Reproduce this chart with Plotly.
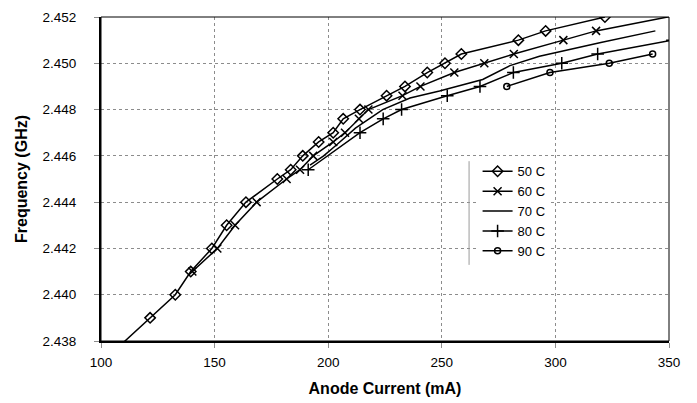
import plotly.graph_objects as go

# ---- data ----
current_50 = [99.5, 121.6, 132.7, 139.5, 148.8, 155.3, 163.8, 177.6, 183.5, 188.8, 195.8,
              202.2, 206.6, 214.0, 225.7, 233.8, 243.6, 251.4, 258.6, 283.7, 295.7, 321.8]
freq_50 = [2.437, 2.439, 2.440, 2.441, 2.442, 2.443, 2.444, 2.445, 2.4454, 2.446, 2.4466,
           2.447, 2.4476, 2.448, 2.4486, 2.449, 2.4496, 2.450, 2.4504, 2.451, 2.4514, 2.452]

current_60 = [140.2, 151.2, 159.0, 168.5, 181.7, 187.6, 193.4, 202.2, 207.4, 213.5, 217.7,
              232.7, 240.6, 255.5, 268.7, 281.7, 303.5, 317.9, 352.0]
freq_60 = [2.441, 2.442, 2.443, 2.444, 2.445, 2.4454, 2.446, 2.4466, 2.447, 2.4476, 2.448,
           2.4486, 2.449, 2.4496, 2.450, 2.4504, 2.451, 2.4514, 2.45205]

current_70 = [192.0, 198.0, 204.0, 212.0, 224.0, 236.0, 249.0, 268.0, 280.0, 293.0, 320.0, 344.0]
freq_70 = [2.4456, 2.4460, 2.4465, 2.4472, 2.4480, 2.4485, 2.4488, 2.4493, 2.4499, 2.4503, 2.4509, 2.4514]

current_80 = [191.2, 214.0, 224.2, 232.3, 252.4, 266.8, 281.5, 302.8, 318.6, 351.5]
freq_80 = [2.4454, 2.4470, 2.4476, 2.4480, 2.4486, 2.4490, 2.4496, 2.4500, 2.4504, 2.4510]

current_90 = [278.6, 297.6, 323.7, 342.8]
freq_90 = [2.4490, 2.4496, 2.4500, 2.4504]

series_names = ["50 C", "60 C", "70 C", "80 C", "90 C"]
x_ticks = [100, 150, 200, 250, 300, 350]
y_ticks = [2.438, 2.440, 2.442, 2.444, 2.446, 2.448, 2.450, 2.452]

FONT = "Liberation Sans, Arial, sans-serif"

fig = go.Figure()
specs = [
    (current_50, freq_50, "diamond-open", 8, "lines+markers"),
    (current_60, freq_60, "x-thin-open", 8, "lines+markers"),
    (current_70, freq_70, "circle", 1, "lines"),
    (current_80, freq_80, "cross-thin-open", 9, "lines+markers"),
    (current_90, freq_90, "circle-open", 6, "lines+markers"),
]
for (xs, ys, sym, sz, mode), name in zip(specs, series_names):
    fig.add_trace(go.Scatter(
        x=xs, y=ys, name=name, mode=mode,
        line=dict(color="black", width=1.5),
        marker=dict(symbol=sym, size=sz, color="black", line=dict(color="black", width=1.5)),
        cliponaxis=True,
    ))

fig.update_layout(
    width=697, height=403,
    margin=dict(l=93, r=36, t=9, b=70),
    paper_bgcolor="white", plot_bgcolor="white",
    font=dict(family=FONT, color="black", size=13.5),
    showlegend=True,
    legend=dict(x=0.663, y=0.57, xanchor="left", yanchor="top",
                bgcolor="white", borderwidth=0, font=dict(size=13, family=FONT),
                tracegroupgap=0),
    xaxis=dict(range=[100, 350], tickvals=x_ticks, ticktext=[str(v) for v in x_ticks],
               showgrid=True, gridcolor="#8c8c8c", griddash="dot", gridwidth=1,
               showline=True, linecolor="black", linewidth=2,
               ticks="outside", ticklen=5, tickcolor="#8c8c8c",
               ticklabelstandoff=3, automargin=False,
               zeroline=False, tickfont=dict(size=13.5),
               title=dict(text="<b>Anode Current (mA)</b>", font=dict(size=16), standoff=14)),
    yaxis=dict(range=[2.438, 2.452], tickvals=y_ticks, ticktext=[f"{v:.3f}" for v in y_ticks],
               showgrid=True, gridcolor="#8c8c8c", griddash="dot", gridwidth=1,
               showline=True, linecolor="black", linewidth=2,
               ticks="outside", ticklen=5, tickcolor="#8c8c8c",
               ticklabelstandoff=15, automargin=False,
               zeroline=False, tickfont=dict(size=13.5),
               title=dict(text="<b>Frequency (GHz)</b>", font=dict(size=16), standoff=11)),
)
fig.add_shape(type="rect", xref="paper", yref="paper", x0=0, y0=0, x1=1, y1=1,
              line=dict(color="black", width=1), layer="above")
fig.add_shape(type="line", xref="paper", yref="paper", x0=0.648, x1=0.648, y0=0.235, y1=0.555,
              line=dict(color="#9a9a9a", width=1), layer="above")

fig.write_html("out.html")
